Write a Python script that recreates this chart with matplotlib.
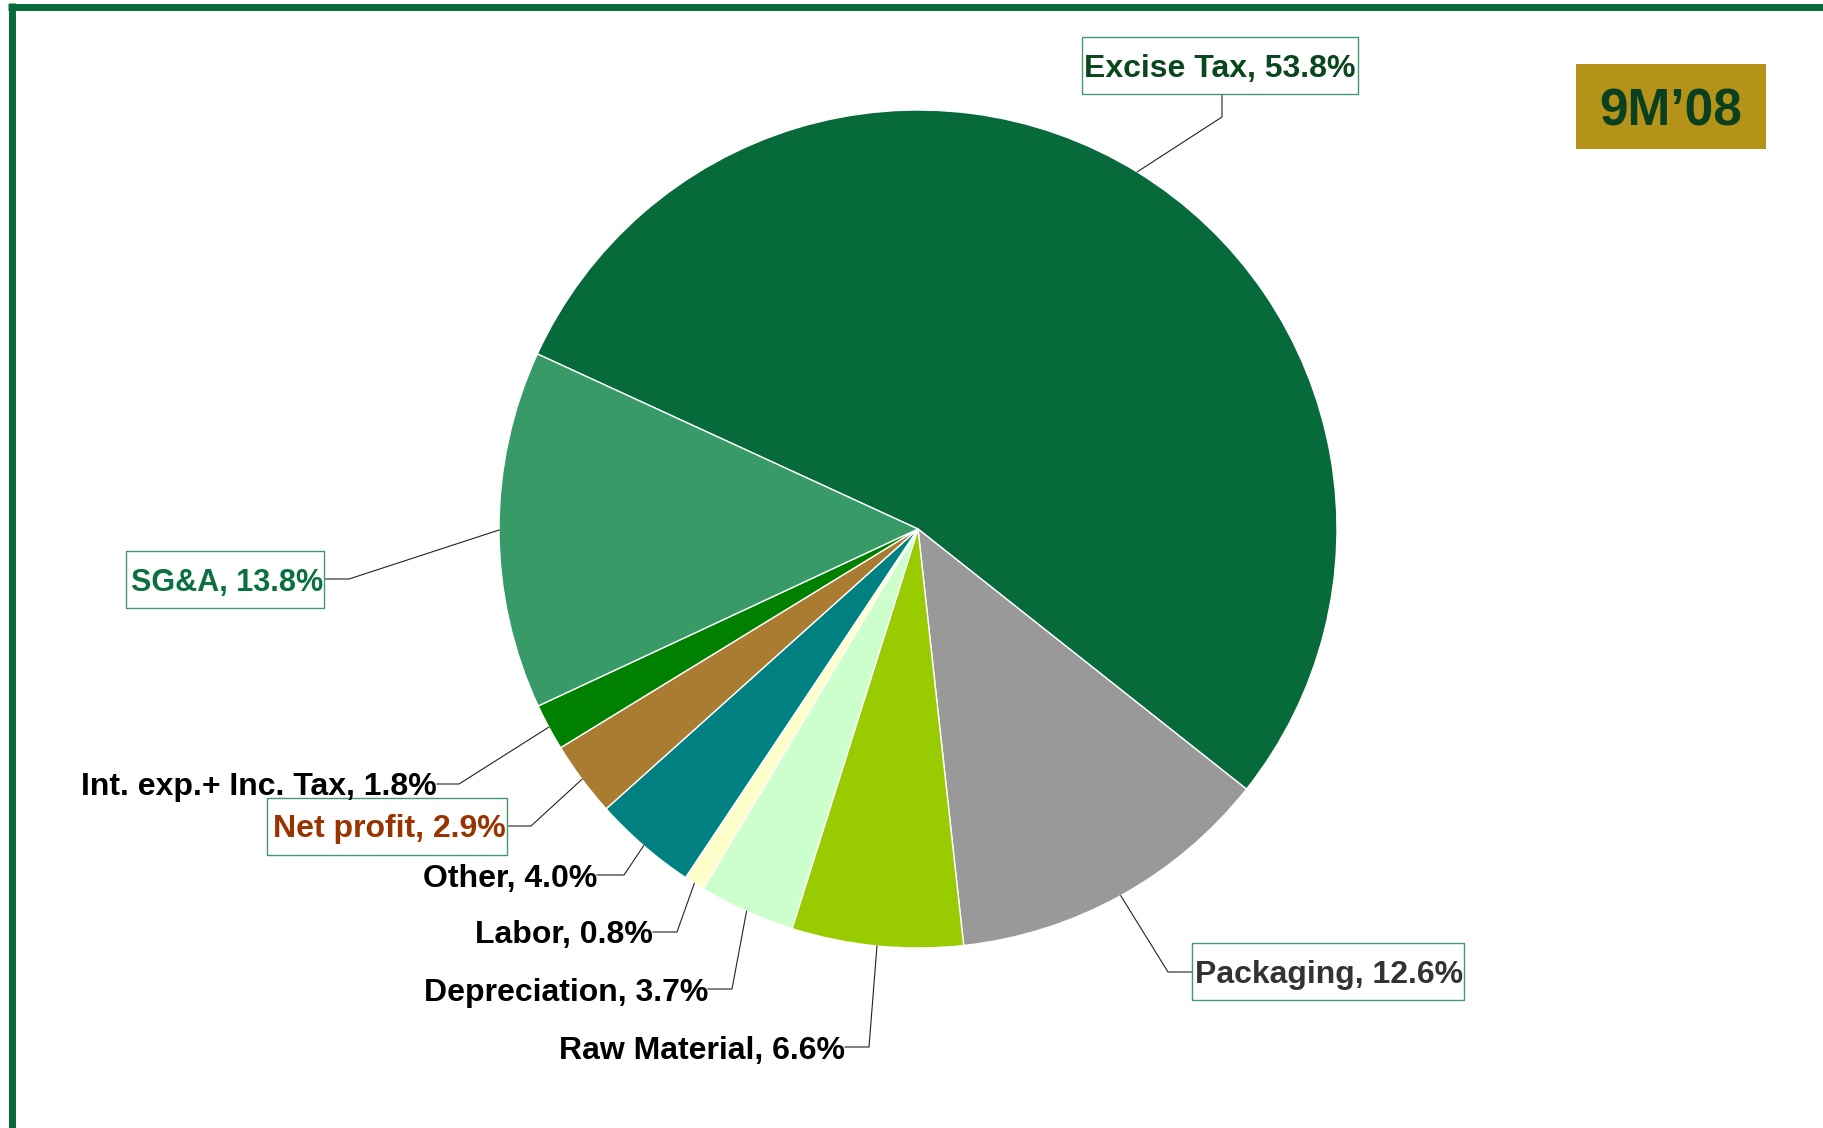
import matplotlib
matplotlib.use("Agg")
import numpy as np
import matplotlib.pyplot as plt
from matplotlib.patches import Rectangle

plt.rcParams['font.family'] = ['Liberation Sans', 'DejaVu Sans']
plt.rcParams['font.weight'] = 'bold'

# cost structure, 9M'08 (share of revenue, %)
categories = ['Excise Tax', 'Packaging', 'Raw Material', 'Depreciation', 'Labor',
              'Other', 'Net profit', 'Int. exp.+ Inc. Tax', 'SG&A']
shares = [53.8, 12.6, 6.6, 3.7, 0.8, 4.0, 2.9, 1.8, 13.8]
colors = ['#076A3A', '#999999', '#99CC00', '#CCFFCC', '#FFFFCC',
          '#008080', '#A97C32', '#008000', '#379A67']
period = '9M\u201908'

W, H = 1823, 1128
GREEN = '#076A3A'


def yi(y):
    # canvas is laid out top-down in pixels
    return H - y


fig = plt.figure(figsize=(W / 100, H / 100), dpi=100)
ax = fig.add_axes([0, 0, 1, 1])

wedges, _ = ax.pie(shares, colors=colors, startangle=155.3, counterclock=False,
                   center=(918, yi(529)), radius=419,
                   wedgeprops=dict(edgecolor='white', linewidth=1))
ax.set_xlim(0, W)
ax.set_ylim(0, H)
ax.set_aspect('equal')
ax.axis('off')

# label placement: elbow point, line end, text anchor, colour, box
layout = {
    'Excise Tax': dict(elbow=(1222, 117), end=(1222, 94), text=(1356, 66),
                       color='#0A461E', box=(1082, 37, 1358, 94)),
    'Packaging': dict(elbow=(1168, 972), end=(1192, 972), text=(1463, 972),
                      color='#333333', box=(1192, 943, 1464, 1000)),
    'Raw Material': dict(elbow=(869, 1047), end=(845, 1047), text=(845, 1047),
                         color='black', box=None),
    'Depreciation': dict(elbow=(732, 989), end=(708, 989), text=(708, 989),
                         color='black', box=None),
    'Labor': dict(elbow=(677, 932), end=(653, 932), text=(653, 932),
                  color='black', box=None),
    'Other': dict(elbow=(624, 875), end=(597, 875), text=(597, 875),
                  color='black', box=None),
    'Net profit': dict(elbow=(531, 826), end=(507, 826), text=(506, 826),
                       color='#993300', box=(267, 798, 507, 855)),
    'Int. exp.+ Inc. Tax': dict(elbow=(459, 784), end=(437, 784), text=(437, 784),
                                color='black', box=None),
    'SG&A': dict(elbow=(349, 579), end=(324, 579), text=(323, 579),
                 color='#0A7040', box=(126, 551, 324, 608), size=22),
}

for w, name, val in zip(wedges, categories, shares):
    lay = layout[name]
    mid = np.deg2rad((w.theta1 + w.theta2) / 2)
    px = w.center[0] + w.r * np.cos(mid)
    py = w.center[1] + w.r * np.sin(mid)
    ex, ey = lay['elbow']
    lx, ly = lay['end']
    ax.plot([px, ex, lx], [py, yi(ey), yi(ly)], color='#222222', lw=0.8, zorder=3)
    if lay['box'] is not None:
        x0, y0, x1, y1 = lay['box']
        ax.add_patch(Rectangle((x0, yi(y1)), x1 - x0, y1 - y0, facecolor='white',
                               edgecolor='#3F9A6C', lw=1, zorder=4))
    tx, ty = lay['text']
    ax.text(tx, yi(ty), f'{name}, {val:.1f}%', ha='right', va='center_baseline',
            fontsize=lay.get('size', 23), fontweight='bold', color=lay['color'], zorder=5)

# period badge
ax.add_patch(Rectangle((1576, yi(149)), 190, 85, facecolor='#B59218', edgecolor='none'))
ax.text(1671, yi(106), period, ha='center', va='center_baseline', fontsize=37,
        fontweight='bold', color='#0A4020')

# frame lines on the top and left
ax.plot([8, W], [yi(6.5), yi(6.5)], color=GREEN, lw=5, solid_capstyle='butt')
ax.plot([11.5, 11.5], [yi(3), 0], color=GREEN, lw=5, solid_capstyle='butt')

fig.savefig('out.png', dpi=100)
